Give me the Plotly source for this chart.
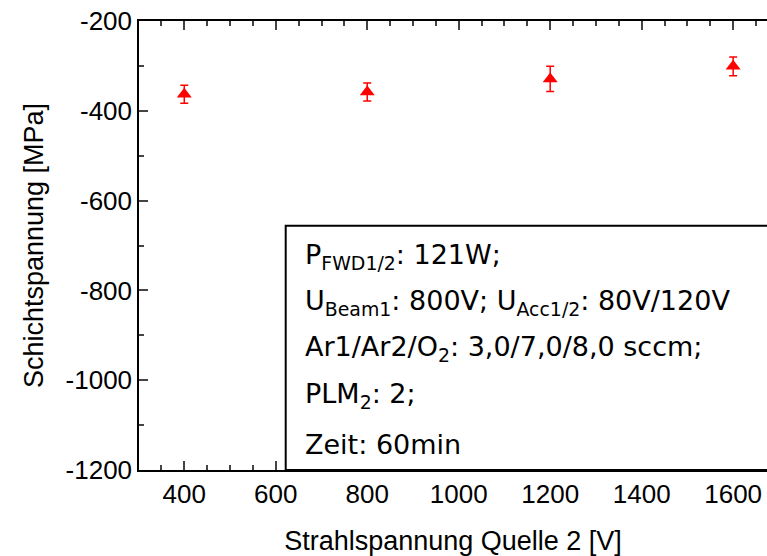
import plotly.graph_objects as go

voltage = [400, 800, 1200, 1600]
stress = [-363, -358, -329, -301]
stress_err = [20, 20, 28, 21]

x_title = "Strahlspannung Quelle 2 [V]"
y_title = "Schichtspannung [MPa]"
x_range = [301, 1674]
y_range = [-1200, -200]
x_tick_vals = [400, 600, 800, 1000, 1200, 1400, 1600]
x_tick_text = ["400", "600", "800", "1000", "1200", "1400", "1600"]
y_tick_vals = [-1200, -1000, -800, -600, -400, -200]
y_tick_text = ["-1200", "-1000", "-800", "-600", "-400", "-200"]
box_lines = [
    "P<sub>FWD1/2</sub>: 121W;",
    "U<sub>Beam1</sub>: 800V; U<sub>Acc1/2</sub>: 80V/120V",
    "Ar1/Ar2/O<sub>2</sub>: 3,0/7,0/8,0 sccm;",
    "PLM<sub>2</sub>: 2;",
    "Zeit: 60min",
]

# body margin is removed via post_script, so figure coords == screen coords
W, H = 767, 556
SL, SR, ST, SB = 139, 767, 21, 470  # plot area on screen
L, T, R, B = SL, ST, W - SR, H - SB
pw, ph = SR - SL, SB - ST

fig = go.Figure()
fig.add_trace(go.Scatter(
    x=voltage, y=stress, mode="markers",
    marker=dict(symbol="triangle-up", size=13, color="#ff0000"),
    error_y=dict(type="data", array=stress_err, color="#ff0000", thickness=1.5, width=4),
    showlegend=False,
))

tick_font = dict(family="Liberation Sans, Arial", size=26, color="black")
title_font = dict(family="Liberation Sans, Arial", size=27, color="black")
fig.update_xaxes(
    range=x_range, tickmode="array", tickvals=x_tick_vals, ticktext=x_tick_text,
    ticks="inside", ticklen=9, tickwidth=1.5, ticklabeloverflow="allow",
    showline=True, linecolor="black", linewidth=1.5, mirror="ticks",
    showgrid=False, zeroline=False, tickfont=tick_font,
    minor=dict(ticks="inside", ticklen=5, dtick=50, tick0=0, tickwidth=1.5, showgrid=False),
    title=dict(text=x_title, font=title_font, standoff=26),
)
fig.update_yaxes(
    range=y_range, tickmode="array", tickvals=y_tick_vals, ticktext=y_tick_text,
    ticks="inside", ticklen=9, tickwidth=1.5, ticklabeloverflow="allow",
    showline=True, linecolor="black", linewidth=1.5, mirror=False,
    showgrid=False, zeroline=False, tickfont=tick_font,
    minor=dict(ticks="inside", ticklen=5, dtick=100, tick0=0, tickwidth=1.5, showgrid=False),
    title=dict(text=y_title, font=title_font, standoff=14),
)

# text box
bx0 = (285.7 - SL) / pw
by1 = (SB - 225.7) / ph
fig.add_shape(type="rect", xref="paper", yref="paper", x0=bx0, x1=1.2, y0=0, y1=by1,
              line=dict(color="black", width=2), fillcolor="white", layer="above")
centers = [256, 302, 348, 395, 444]
for txt, cy in zip(box_lines, centers):
    fig.add_annotation(xref="paper", yref="paper", x=(303 - SL) / pw, y=(SB - cy) / ph,
                       xanchor="left", yanchor="middle", showarrow=False, text=txt,
                       font=dict(family="DejaVu Sans", size=27, color="black"))

fig.update_layout(
    width=W, height=H, margin=dict(l=L, r=R, t=T, b=B, pad=0),
    paper_bgcolor="white", plot_bgcolor="white",
)
fig.write_html(
    "out.html",
    config={"displayModeBar": False},
    post_script="document.body.style.margin='0';document.body.style.overflow='hidden';",
)
